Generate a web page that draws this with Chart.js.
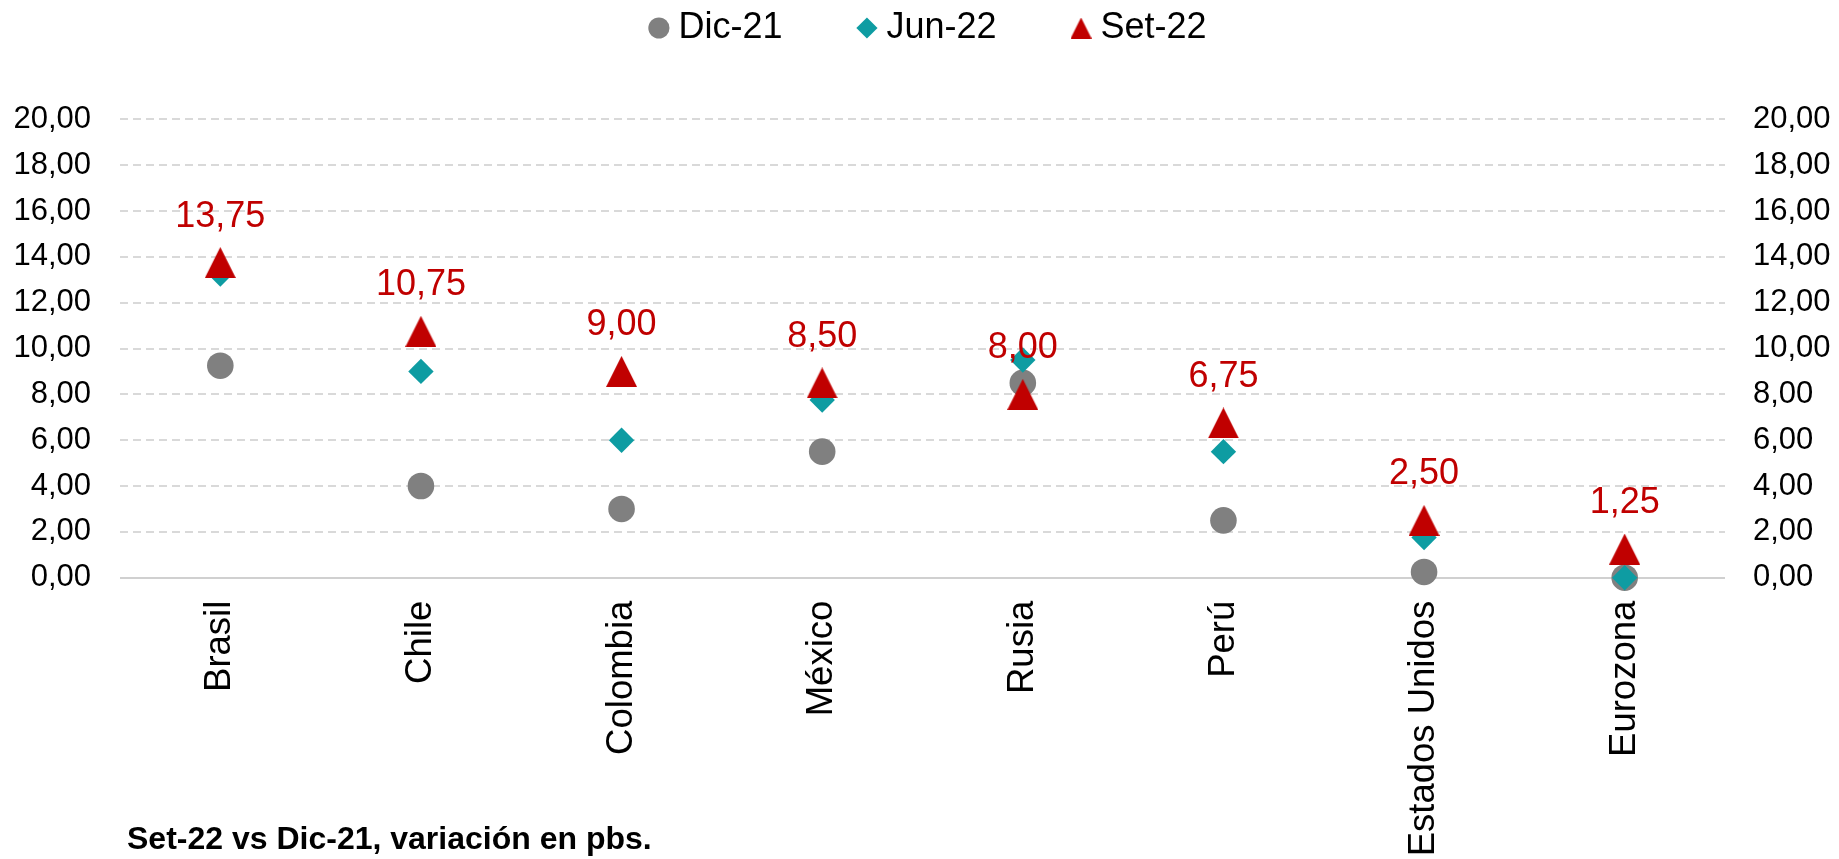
<!DOCTYPE html>
<html lang="es">
<head>
<meta charset="utf-8">
<title>Tasas de política monetaria</title>
<script src="https://cdn.jsdelivr.net/npm/chart.js@4.4.1/dist/chart.umd.min.js"></script>
<style>
  html, body { margin: 0; padding: 0; background: #fff; }
  #caja { width: 1839px; height: 859px; position: relative; }
</style>
</head>
<body>
<div id="caja"><canvas id="grafico-tasas"></canvas></div>
<script>
const paises = ['Brasil', 'Chile', 'Colombia', 'México', 'Rusia', 'Perú', 'Estados Unidos', 'Eurozona'];
const dic21 = [9.25, 4.00, 3.00, 5.50, 8.50, 2.50, 0.25, 0.00];
const jun22 = [13.25, 9.00, 6.00, 7.75, 9.50, 5.50, 1.75, 0.00];
const set22 = [13.75, 10.75, 9.00, 8.50, 8.00, 6.75, 2.50, 1.25];
const ejeMin = 0;
const ejeMax = 20;
const ejePaso = 2;
const nota = 'Set-22 vs Dic-21, variación en pbs.';

const fuente = "'Liberation Sans', Arial, sans-serif";
const rojo = '#c00000';

function formato(v) {
  return v.toFixed(2).replace('.', ',');
}

// triangulo tipo Excel (base = altura), centrado en el punto
function triangulo(lado) {
  const c = document.createElement('canvas');
  c.width = lado;
  c.height = lado;
  const g = c.getContext('2d');
  g.fillStyle = rojo;
  g.beginPath();
  g.moveTo(lado / 2, 0);
  g.lineTo(lado, lado);
  g.lineTo(0, lado);
  g.closePath();
  g.fill();
  return c;
}
const triGrande = triangulo(31);
const triLeyenda = triangulo(21);

// espacio extra bajo la leyenda
const espacioLeyenda = {
  id: 'espacioLeyenda',
  beforeInit(chart) {
    if (!chart.legend || chart.legend._parcheado) return;
    const fitOriginal = chart.legend.fit;
    chart.legend.fit = function () {
      fitOriginal.bind(chart.legend)();
      this.height = 192.3;
    };
    chart.legend._parcheado = true;
  }
};

const etiquetas = {
  id: 'etiquetas',
  afterDatasetsDraw(chart) {
    const ctx = chart.ctx;
    const meta = chart.getDatasetMeta(2);
    ctx.save();
    ctx.fillStyle = rojo;
    ctx.font = '36px ' + fuente;
    ctx.textAlign = 'center';
    ctx.textBaseline = 'alphabetic';
    meta.data.forEach(function (p, i) {
      ctx.fillText(formato(set22[i]), p.x, p.y - 36);
    });
    ctx.restore();
  },
  afterDraw(chart) {
    const ctx = chart.ctx;
    ctx.save();
    ctx.fillStyle = '#000';
    ctx.font = 'bold 32px ' + fuente;
    ctx.textAlign = 'left';
    ctx.textBaseline = 'alphabetic';
    ctx.fillText(nota, 127, 849);
    ctx.restore();
  }
};

const ticksY = {
  min: ejeMin,
  max: ejeMax,
  ticks: {
    stepSize: ejePaso,
    color: '#000',
    font: { family: fuente, size: 31 },
    callback: function (v) { return formato(v); }
  }
};

const ctxTasas = document.getElementById('grafico-tasas');
new Chart(ctxTasas, {
  type: 'line',
  data: {
    labels: paises,
    datasets: [
      {
        label: 'Dic-21',
        data: dic21,
        showLine: false,
        clip: false,
        order: 3,
        pointStyle: 'circle',
        pointRadius: 13.3,
        pointHoverRadius: 13.3,
        pointBorderWidth: 0,
        backgroundColor: '#808080',
        borderColor: '#808080'
      },
      {
        label: 'Jun-22',
        data: jun22,
        showLine: false,
        clip: false,
        order: 2,
        pointStyle: 'rectRot',
        pointRadius: 12.7,
        pointHoverRadius: 12.7,
        pointBorderWidth: 0,
        backgroundColor: '#0e9ca2',
        borderColor: '#0e9ca2'
      },
      {
        label: 'Set-22',
        data: set22,
        showLine: false,
        clip: false,
        order: 1,
        pointStyle: triGrande,
        pointRadius: 16,
        pointHoverRadius: 16,
        pointBorderWidth: 0,
        backgroundColor: rojo,
        borderColor: rojo
      }
    ]
  },
  options: {
    responsive: true,
    maintainAspectRatio: false,
    animation: false,
    layout: { padding: { top: -73, left: 0, right: -25, bottom: 0 } },
    plugins: {
      tooltip: { enabled: false },
      legend: {
        position: 'top',
        labels: {
          usePointStyle: true,
          boxHeight: 15,
          boxWidth: 3,
          padding: 83,
          color: '#000',
          font: { family: fuente, size: 36 },
          sort: function (a, b) { return a.datasetIndex - b.datasetIndex; },
          generateLabels: function (chart) {
            const items = Chart.defaults.plugins.legend.labels.generateLabels(chart);
            items.forEach(function (it) {
              if (it.datasetIndex === 2) it.pointStyle = triLeyenda;
            });
            return items;
          }
        }
      }
    },
    scales: {
      x: {
        offset: true,
        grid: { display: false },
        border: { display: false },
        ticks: {
          autoSkip: false,
          maxRotation: 90,
          minRotation: 90,
          padding: 15,
          color: '#000',
          font: { family: fuente, size: 36.5 }
        },
        afterFit: function (s) { s.height = 281.3; }
      },
      y: Object.assign({}, ticksY, {
        position: 'left',
        grid: {
          color: function (c) { return c.tick && c.tick.value === 0 ? '#d0d0d0' : '#d9d9d9'; },
          lineWidth: 2,
          drawTicks: false
        },
        border: {
          display: false,
          dash: function (c) { return c.tick && c.tick.value === 0 ? [] : [8, 5]; }
        },
        ticks: Object.assign({}, ticksY.ticks, { padding: 29 }),
        afterFit: function (s) { s.width = 120; }
      }),
      y2: Object.assign({}, ticksY, {
        position: 'right',
        grid: { display: false, drawTicks: false },
        border: { display: false },
        ticks: Object.assign({}, ticksY.ticks, { padding: 28 }),
        afterFit: function (s) { s.width = 139; }
      })
    }
  },
  plugins: [espacioLeyenda, etiquetas]
});
</script>
</body>
</html>
